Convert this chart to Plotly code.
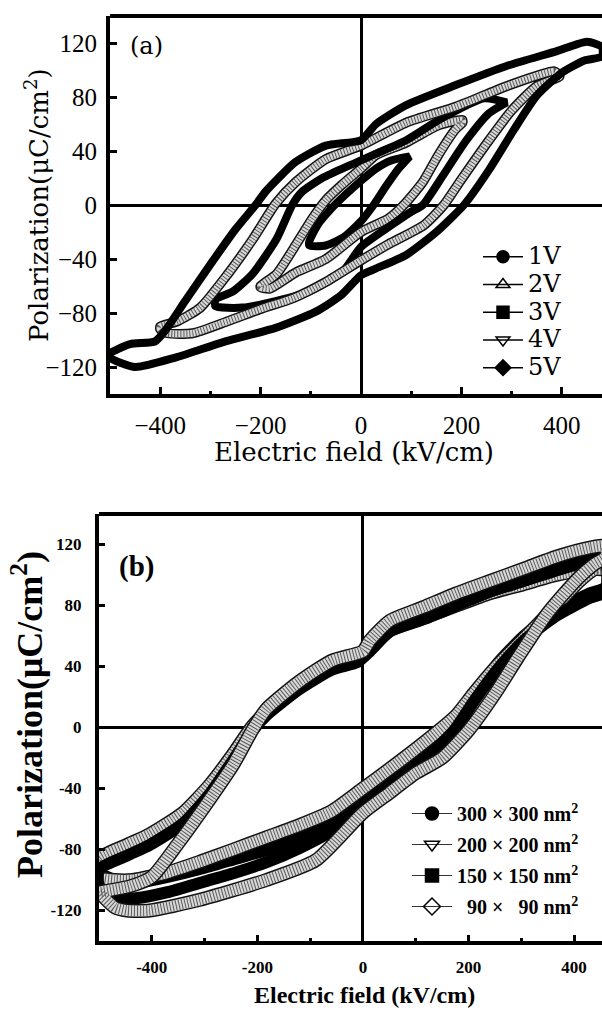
import plotly.graph_objects as go

# ---------------- Panel (a): P-E loops vs. applied voltage ----------------
# upper branch = field decreasing, lower branch = field increasing
E_UP_1V = [97, 60, 30, 0, -30, -60, -85, -103]
P_UP_1V = [36, 33, 27, 18, 8, -3, -14, -27]
E_LO_1V = [-103, -70, -35, 0, 25, 50, 75, 97]
P_LO_1V = [-30, -30, -24, -12, 0, 14, 27, 36]

E_UP_2V = [202, 154, 89, 30, 0, -38, -69, -97, -129, -168, -200]
P_UP_2V = [63, 59, 46, 37, 27, 15, 4, -10, -29, -51, -60]
E_LO_2V = [-200, -182, -130, -70, 0, 55, 85, 123, 154, 188, 202]
P_LO_2V = [-61, -62, -50, -40, -20, -10, 0, 17, 37, 56, 61]

E_UP_3V = [290, 245, 155, 90, 30, 0, -25, -77, -117, -137, -168, -216, -255, -290]
P_UP_3V = [76, 79, 63, 48, 38, 33, 29, 20, 10, 0, -25, -51, -64, -70]
E_LO_3V = [-290, -236, -168, -103, -38, 0, 60, 100, 123, 160, 210, 255, 290]
P_LO_3V = [-75, -76, -71, -64, -50, -31, -15, -5, 0, 20, 48, 68, 76]

E_UP_4V = [395, 385, 290, 190, 90, 0, -70, -130, -170, -215, -265, -320, -365, -400]
P_UP_4V = [96, 99, 88, 73, 61, 44, 34, 17, 1, -25, -51, -76, -86, -90]
E_LO_4V = [-400, -385, -335, -265, -200, -135, -70, 0, 55, 125, 165, 200, 255, 300, 350, 395]
P_LO_4V = [-92, -95, -95, -86, -77, -69, -57, -41, -29, -15, 0, 19, 48, 70, 88, 95]

E_UP_5V = [480, 450, 390, 290, 190, 90, 30, 0, -70, -130, -190, -210, -250, -300, -350, -390, -410, -460, -500]
P_UP_5V = [117, 121, 114, 103, 89, 74, 60, 48, 44, 32, 10, 0, -18, -44, -71, -93, -101, -103, -110]
E_LO_5V = [-500, -450, -370, -270, -170, -90, -40, 0, 30, 90, 150, 205, 255, 305, 350, 400, 445, 480]
P_LO_5V = [-113, -120, -113, -101, -91, -79, -67, -52, -47, -37, -20, 0, 26, 56, 81, 98, 107, 110]

LABELS_A = ["1V", "2V", "3V", "4V", "5V"]
SYMBOLS_A = ["circle", "triangle-up-open", "square", "triangle-down-open", "diamond"]
HATCHED_A = [False, True, False, True, False]

# ---------------- Panel (b): P-E loops vs. capacitor size ----------------
E_UP_300 = [460, 430, 366, 304, 240, 177, 115, 51, 13, -10, -58, -121, -183, -209, -247, -291, -341, -404, -447, -500]
P_UP_300 = [112, 112, 106, 99, 92, 83, 74, 66, 53, 45, 41, 28, 10, 0, -20, -42, -61, -74, -80, -89]
E_LO_300 = [-500, -470, -430, -370, -300, -240, -180, -120, -60, 0, 50, 115, 175, 210, 255, 305, 365, 430, 460]
P_LO_300 = [-95, -100, -102, -98, -92, -86, -80, -72, -62, -47, -35, -18, 2, 20, 42, 60, 76, 88, 92]

E_UP_200 = [460, 430, 366, 304, 240, 177, 115, 51, 13, 0, -58, -121, -183, -209, -247, -291, -341, -404, -447, -500]
P_UP_200 = [104, 104, 100, 94, 88, 80, 72, 64, 52, 47, 40, 27, 10, 1, -18, -38, -56, -70, -77, -86]
E_LO_200 = [-500, -470, -436, -370, -309, -245, -183, -120, -60, 0, 51, 115, 177, 209, 253, 304, 366, 410, 440, 460]
P_LO_200 = [-98, -100, -100, -95, -88, -80, -72, -64, -55, -40, -27, -10, 8, 22, 40, 58, 80, 96, 104, 105]

E_UP_150 = [460, 430, 366, 304, 240, 177, 115, 51, 13, -10, -58, -121, -183, -209, -247, -291, -341, -404, -447, -500]
P_UP_150 = [109, 109, 103, 96, 89, 80, 71, 63, 50, 43, 38, 25, 8, -2, -22, -44, -63, -77, -84, -93]
E_LO_150 = [-500, -470, -430, -370, -300, -240, -180, -120, -60, 0, 50, 115, 175, 210, 255, 305, 365, 430, 460]
P_LO_150 = [-104, -112, -112, -108, -101, -95, -88, -79, -68, -52, -38, -22, -1, 17, 38, 57, 73, 85, 89]

E_UP_90 = [460, 430, 366, 304, 240, 177, 115, 51, 13, 0, -58, -121, -183, -210, -245, -300, -350, -400, -440, -500]
P_UP_90 = [119, 118, 112, 104, 96, 88, 79, 70, 57, 50, 44, 30, 12, -2, -24, -52, -76, -98, -104, -108]
E_LO_90 = [-500, -470, -447, -404, -309, -183, -89, 0, 50, 100, 150, 200, 250, 294, 350, 408, 438, 460]
P_LO_90 = [-108, -118, -120, -120, -113, -100, -87, -56, -43, -30, -20, -2, 22, 46, 75, 98, 107, 112]

LABELS_B = ["300 \u00d7 300 nm<sup>2</sup>", "200 \u00d7 200 nm<sup>2</sup>",
            "150 \u00d7 150 nm<sup>2</sup>", "\u200790 \u00d7 \u200790 nm<sup>2</sup>"]
SYMBOLS_B = ["circle", "triangle-down-open", "square", "diamond-open"]
HATCHED_B = [False, True, False, True]

# axis ticks
YTICKS = [-120, -80, -40, 0, 40, 80, 120]
XTICKS = [-400, -200, 0, 200, 400]
XTICKTEXT_B = ["-400", "-200", "0", "200", "400"]
YTICKTEXT_B = ["-120", "-80", "-40", "0", "40", "80", "120"]

LOOPS_A = [(E_UP_1V, P_UP_1V, E_LO_1V, P_LO_1V), (E_UP_2V, P_UP_2V, E_LO_2V, P_LO_2V),
           (E_UP_3V, P_UP_3V, E_LO_3V, P_LO_3V), (E_UP_4V, P_UP_4V, E_LO_4V, P_LO_4V),
           (E_UP_5V, P_UP_5V, E_LO_5V, P_LO_5V)]
LOOPS_B = [(E_UP_300, P_UP_300, E_LO_300, P_LO_300), (E_UP_200, P_UP_200, E_LO_200, P_LO_200),
           (E_UP_150, P_UP_150, E_LO_150, P_LO_150), (E_UP_90, P_UP_90, E_LO_90, P_LO_90)]

W, H = 602, 1010
fig = go.Figure()


def add_loop(loop, hatched, xa, ya, w):
    eu, pu, el, pl = loop
    x = list(eu) + list(el) + [eu[0]]
    y = list(pu) + list(pl) + [pu[0]]
    common = dict(x=x, y=y, xaxis=xa, yaxis=ya, mode="lines", showlegend=False,
                  hoverinfo="skip")
    ls = dict(shape="spline", smoothing=0.6)
    if hatched:
        fig.add_trace(go.Scatter(**common, line=dict(color="#111111", width=w + 2, **ls)))
        fig.add_trace(go.Scatter(**common, line=dict(color="#d8d8d8", width=w - 1, **ls)))
        fig.add_trace(go.Scatter(**common, line=dict(color="#5a5a5a", width=w - 1,
                                                     dash="1px,2px", **ls)))
    else:
        fig.add_trace(go.Scatter(**common, line=dict(color="black", width=w, **ls)))


for loop, h in zip(LOOPS_A, HATCHED_A):
    add_loop(loop, h, "x", "y", 8)
for loop, h in zip(LOOPS_B, HATCHED_B):
    add_loop(loop, h, "x2", "y2", 12)

# legend proxies
for i, (lab, sym) in enumerate(zip(LABELS_A, SYMBOLS_A)):
    fig.add_trace(go.Scatter(x=[None], y=[None], xaxis="x", yaxis="y",
                             name="<span style='font-size:24px'>%s</span>" % lab,
                             mode="lines+markers", legend="legend", legendgroup="a%d" % i,
                             line=dict(color="black", width=1.5),
                             marker=dict(symbol=sym, size=12, color="black",
                                         line=dict(color="black", width=1.5))))
for i, (lab, sym) in enumerate(zip(LABELS_B, SYMBOLS_B)):
    fig.add_trace(go.Scatter(x=[None], y=[None], xaxis="x2", yaxis="y2", name=lab,
                             mode="lines+markers", legend="legend2", legendgroup="b%d" % i,
                             line=dict(color="#333333", width=1.2),
                             marker=dict(symbol=sym, size=13, color="black",
                                         line=dict(color="black", width=1.5))))


def px2fx(px):
    return px / W


def py2fy(py):
    return 1 - py / H


serif = "DejaVu Serif"
times = "Liberation Serif"

axis_common = dict(showline=True, linecolor="black", ticks="inside", tickcolor="black",
                   showgrid=False, zeroline=True, zerolinecolor="black", mirror=False)

fig.update_layout(
    width=W, height=H, margin=dict(l=0, r=0, t=0, b=0, autoexpand=False),
    paper_bgcolor="white", plot_bgcolor="white",
    xaxis=dict(**axis_common, domain=[px2fx(110), 1], anchor="y", range=[-500, 480],
               tickvals=XTICKS, linewidth=4, tickwidth=3, ticklen=7, zerolinewidth=3,
               minor=dict(ticks="inside", dtick=100, tick0=0, ticklen=3, tickwidth=3,
                          tickcolor="black"),
               tickfont=dict(family=times, size=25, color="black"), ticklabelstandoff=6),
    yaxis=dict(**axis_common, domain=[py2fy(394), py2fy(16)], anchor="x", range=[-140, 140],
               tickvals=YTICKS, linewidth=4, tickwidth=3, ticklen=7, zerolinewidth=3,
               tickfont=dict(family=times, size=25, color="black"), ticklabelstandoff=4),
    xaxis2=dict(**axis_common, domain=[px2fx(99), 1], anchor="y2", range=[-500, 453],
                tickvals=XTICKS, ticktext=XTICKTEXT_B, linewidth=4, tickwidth=3, ticklen=6,
                zerolinewidth=3,
                minor=dict(ticks="inside", dtick=100, tick0=0, ticklen=3, tickwidth=3,
                           tickcolor="black"),
                tickfont=dict(family=times, size=17, color="black", weight="bold"),
                ticklabelstandoff=8),
    yaxis2=dict(**axis_common, domain=[py2fy(941), py2fy(514)], anchor="x2", range=[-140, 140],
                tickvals=YTICKS, ticktext=YTICKTEXT_B, linewidth=4, tickwidth=3, ticklen=6,
                zerolinewidth=3,
                tickfont=dict(family=times, size=17, color="black", weight="bold"),
                ticklabelstandoff=10),
    legend=dict(x=px2fx(478), y=py2fy(238), xanchor="left", yanchor="top",
                bgcolor="rgba(0,0,0,0)", font=dict(family=serif, size=19, color="black"),
                tracegroupgap=0, itemwidth=40),
    legend2=dict(x=px2fx(407), y=py2fy(794), xanchor="left", yanchor="top",
                 bgcolor="rgba(0,0,0,0)",
                 font=dict(family=times, size=20, color="black", weight="bold"),
                 tracegroupgap=2, itemwidth=40),
    showlegend=True,
)

# top borders of both frames
for xr, yr in (("x domain", "y domain"), ("x2 domain", "y2 domain")):
    fig.add_shape(type="line", xref=xr, yref=yr, x0=0, x1=1, y0=1, y1=1,
                  line=dict(color="black", width=4), y0shift=0, y1shift=0)

ann = [
    dict(text="(a)", x=px2fx(146), y=py2fy(46), font=dict(family=serif, size=24)),
    dict(text="Electric field (kV/cm)", x=px2fx(354), y=py2fy(452),
         font=dict(family=serif, size=26)),
    dict(text="Polarization(\u03bcC/cm<sup>2</sup>)", x=px2fx(37), y=py2fy(205),
         textangle=-90, font=dict(family=serif, size=26)),
    dict(text="<b>(b)</b>", x=px2fx(136), y=py2fy(566),
         font=dict(family=times, size=29)),
    dict(text="<b>Electric field (kV/cm)</b>", x=px2fx(364), y=py2fy(995),
         font=dict(family=times, size=24)),
    dict(text="<b>Polarization(\u03bcC/cm<sup>2</sup>)</b>", x=px2fx(27), y=py2fy(715),
         textangle=-90, font=dict(family=times, size=36)),
]
for a in ann:
    a["font"]["color"] = "black"
    fig.add_annotation(xref="paper", yref="paper", showarrow=False,
                       xanchor="center", yanchor="middle", **a)

fig.write_html("out.html", config={"displayModeBar": False},
               post_script="document.body.style.margin='0';document.body.style.padding='0';")
